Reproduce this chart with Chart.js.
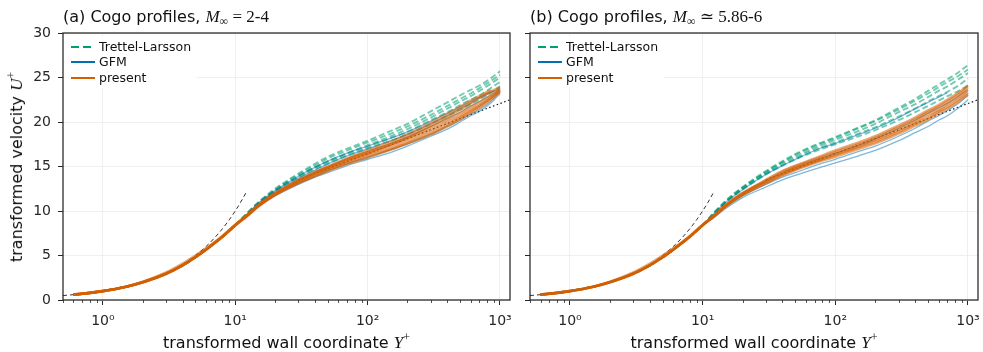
<!DOCTYPE html>
<html><head><meta charset="utf-8">
<script src="https://cdn.jsdelivr.net/npm/chart.js@4.4.0/dist/chart.umd.min.js"></script>
<style>
html,body{margin:0;padding:0;background:#fff;}
#wrap{position:relative;width:983px;height:352px;overflow:hidden;font-family:'DejaVu Sans',sans-serif;color:#111;}
canvas{position:absolute;top:0;}
.title{position:absolute;top:7px;font-size:16px;white-space:nowrap;line-height:20px;}
.math{font-family:'Liberation Serif','DejaVu Serif',serif;font-size:17px;}
.math sub{font-size:12px;vertical-align:-3px;line-height:0;}
.math sup{font-size:12px;vertical-align:7px;line-height:0;}
.xl{position:absolute;top:333px;font-size:16px;white-space:nowrap;line-height:20px;transform:translateX(-50%);}
.yl{position:absolute;left:16.5px;top:166.5px;font-size:16px;white-space:nowrap;line-height:20px;transform:translate(-50%,-50%) rotate(-90deg);}
.legend{position:absolute;top:36px;width:132px;height:52px;background:rgba(255,255,255,0.85);border-radius:3px;}
.row{position:absolute;left:6px;height:16px;display:flex;align-items:center;font-size:12.5px;line-height:16px;white-space:nowrap;}
.row svg{margin-right:4px;}
</style>
</head><body>
<div id="wrap">
<canvas id="c1" width="515" height="352" style="left:0;width:515px;height:352px"></canvas>
<canvas id="c2" width="468" height="352" style="left:515px;width:468px;height:352px"></canvas>

<div class="title" style="left:63px">(a) Cogo profiles, <span class="math"><i>M</i><sub>∞</sub> = 2-4</span></div>
<div class="title" style="left:530px">(b) Cogo profiles, <span class="math"><i>M</i><sub>∞</sub> ≃ 5.86-6</span></div>

<div class="xl" style="left:286.5px">transformed wall coordinate <span class="math"><i>Y</i><sup>+</sup></span></div>
<div class="xl" style="left:754px">transformed wall coordinate <span class="math"><i>Y</i><sup>+</sup></span></div>
<div class="yl">transformed velocity <span class="math"><i>U</i><sup>+</sup></span></div>

<div class="legend" style="left:65px">
 <div class="row" style="top:3px"><svg width="24" height="4"><line x1="0" y1="2" x2="24" y2="2" stroke="#009E73" stroke-width="2" stroke-dasharray="8,4"/></svg><span>Trettel-Larsson</span></div>
 <div class="row" style="top:18px"><svg width="24" height="4"><line x1="0" y1="2" x2="24" y2="2" stroke="#0072B2" stroke-width="2"/></svg><span>GFM</span></div>
 <div class="row" style="top:33.5px"><svg width="24" height="4"><line x1="0" y1="2" x2="24" y2="2" stroke="#D55E00" stroke-width="2"/></svg><span>present</span></div>
</div>
<div class="legend" style="left:532px">
 <div class="row" style="top:3px"><svg width="24" height="4"><line x1="0" y1="2" x2="24" y2="2" stroke="#009E73" stroke-width="2" stroke-dasharray="8,4"/></svg><span>Trettel-Larsson</span></div>
 <div class="row" style="top:18px"><svg width="24" height="4"><line x1="0" y1="2" x2="24" y2="2" stroke="#0072B2" stroke-width="2"/></svg><span>GFM</span></div>
 <div class="row" style="top:33.5px"><svg width="24" height="4"><line x1="0" y1="2" x2="24" y2="2" stroke="#D55E00" stroke-width="2"/></svg><span>present</span></div>
</div>
</div>

<script>
// ---------------- data ----------------
const yPlus = [0.6, 0.8, 1, 1.5, 2, 3, 4, 5, 6, 8, 10, 12, 15, 20, 30, 40, 50, 70, 100, 150, 200, 300, 400, 500, 600, 700, 850, 1000];
// near-wall part (Y+ = 0.6 ... 10), common to all profiles
const innerU     = [0.6, 0.8, 1.0, 1.5, 2.0, 2.95, 3.9, 4.8, 5.65, 7.1, 8.4];
const innerUHigh = [0.6, 0.8, 1.0, 1.5, 2.05, 3.1, 4.1, 5.0, 5.8, 7.2, 8.45];
// outer part (Y+ = 12 ... 1000)
// panel (a)
const aTrettel = [
  [9.6,11.0,12.5,14.2,15.3,16.1,17.0,17.9,19.0,19.8,21.2,22.2,23.0,23.6,24.1,24.9,25.7],
  [9.6,11.0,12.4,14.1,15.1,15.9,16.8,17.7,18.7,19.5,20.8,21.8,22.6,23.2,23.8,24.6,25.3],
  [9.5,10.9,12.3,13.9,14.9,15.6,16.5,17.4,18.4,19.2,20.5,21.5,22.3,22.9,23.5,24.3,25.0],
  [9.5,10.9,12.3,13.9,14.9,15.5,16.4,17.2,18.2,18.9,20.2,21.1,21.9,22.5,23.0,23.8,24.5],
  [9.5,10.8,12.2,13.7,14.7,15.3,16.2,17.0,17.9,18.6,19.8,20.7,21.4,22.0,22.5,23.3,24.0]
];
const aGFM = [
  [9.5,10.9,12.3,13.9,14.9,15.6,16.5,17.3,18.2,18.9,20.1,21.0,21.7,22.3,22.8,23.4],
  [9.4,10.7,12.0,13.5,14.4,15.0,15.9,16.7,17.6,18.3,19.5,20.4,21.1,21.8,22.3,23.0,23.7],
  [9.3,10.5,11.8,13.1,13.9,14.5,15.3,16.0,16.9,17.5,18.6,19.5,20.2,20.9,21.4,22.3,23.4],
  [9.3,10.5,11.7,13.0,13.8,14.3,15.1,15.8,16.6,17.3,18.4,19.2,20.0,20.7,21.2,22.1,23.2],
  [9.4,10.8,12.2,13.7,14.6,15.3,16.2,17.0,17.9,18.6,19.8,20.7,21.5,22.1,22.7,23.3,23.8]
];
const aPresent = [
  [9.4,10.7,12.0,13.4,14.3,14.9,15.8,16.6,17.5,18.2,19.4,20.3,21.0,21.7,22.2,23.0,23.7],
  [9.4,10.6,11.9,13.3,14.2,14.8,15.6,16.4,17.3,18.0,19.1,20.0,20.7,21.4,21.9,22.7,23.5],
  [9.3,10.6,11.8,13.2,14.0,14.6,15.4,16.2,17.0,17.7,18.8,19.7,20.5,21.2,21.8,22.7,23.6],
  [9.4,10.7,12.0,13.5,14.4,15.0,15.9,16.8,17.8,18.6,19.9,20.9,21.7,22.4,22.9,23.6],
  [9.4,10.6,11.9,13.3,14.2,14.8,15.7,16.5,17.5,18.3,19.6,20.6,21.4,22.1,22.7,23.4,23.9],
  [9.3,10.5,11.8,13.1,13.9,14.5,15.3,16.0,16.9,17.6,18.6,19.5,20.3,21.0,21.6,22.5,23.4]
];
// panel (b)
const bTrettel = [
  [9.7,11.2,12.7,14.5,15.6,16.4,17.4,18.3,19.4,20.2,21.6,22.6,23.5,24.2,24.8,25.6,26.4],
  [9.7,11.1,12.6,14.4,15.5,16.3,17.3,18.2,19.3,20.1,21.4,22.4,23.2,23.9,24.5,25.2,25.9],
  [9.6,11.1,12.6,14.3,15.4,16.1,17.1,18.0,19.0,19.8,21.1,22.0,22.8,23.5,24.0,24.8,25.5],
  [9.6,11.0,12.5,14.2,15.2,15.9,16.9,17.7,18.7,19.4,20.6,21.5,22.3,22.9,23.4,24.1,24.9],
  [9.6,11.0,12.4,14.1,15.1,15.8,16.7,17.5,18.4,19.1,20.2,21.1,21.8,22.4,22.9,23.5,24.1]
];
const bGFM = [
  [9.6,11.0,12.4,14.1,15.1,15.8,16.8,17.6,18.6,19.3,20.5,21.5,22.2,22.8,23.3],
  [9.4,10.7,12.0,13.4,14.3,14.9,15.7,16.5,17.4,18.1,19.3,20.2,21.0,21.6,22.1,22.9,23.6],
  [9.3,10.5,11.7,13.0,13.8,14.3,15.1,15.8,16.7,17.3,18.4,19.3,20.1,20.7,21.3,22.1,23.0],
  [9.2,10.3,11.5,12.7,13.5,14.0,14.7,15.4,16.2,16.8,17.9,18.8,19.5,20.2,20.7,21.6,22.5]
];
const bPresent = [
  [9.4,10.7,12.0,13.4,14.4,15.0,15.8,16.6,17.5,18.2,19.4,20.3,21.1,21.7,22.3,23.1,23.9],
  [9.4,10.6,11.9,13.3,14.2,14.8,15.6,16.4,17.3,18.0,19.1,20.0,20.8,21.4,22.0,22.8,23.6],
  [9.3,10.6,11.8,13.2,14.1,14.7,15.5,16.3,17.2,17.8,18.9,19.8,20.5,21.2,21.7,22.5,23.3],
  [9.4,10.7,12.0,13.5,14.5,15.1,15.9,16.8,17.7,18.4,19.6,20.5,21.3,21.9,22.5,23.3,24.1],
  [9.3,10.5,11.8,13.1,14.0,14.6,15.4,16.1,17.0,17.6,18.7,19.6,20.3,21.0,21.5,22.3,23.1]
];
// reference laws
const viscY = [0.5, 0.6, 0.8, 1, 1.5, 2, 3, 4, 5, 6, 7, 8, 9, 10, 11, 12];
const viscU = [0.5, 0.6, 0.8, 1, 1.5, 2, 3, 4, 5, 6, 7, 8, 9, 10, 11, 12];
const logLawY = [30, 1190];
const logLawU = [13.5, 22.5];
// ticks
const xTickVals = [0.5,0.6,0.7,0.8,0.9,1,2,3,4,5,6,7,8,9,10,20,30,40,50,60,70,80,90,100,200,300,400,500,600,700,800,900,1000];
const xMajor = [1, 10, 100, 1000];
const xMajorLabels = ['10⁰', '10¹', '10²', '10³'];
const yTickVals = [0, 5, 10, 15, 20, 25, 30];

// ---------------- chart ----------------
const C_GREEN = 'rgba(0,158,115,0.55)';
const C_BLUE = 'rgba(0,114,178,0.5)';
const C_ORANGE = 'rgba(213,94,0,0.55)';

function profilePoints(inner, outer) {
  const u = inner.concat(outer);
  return u.map((v, i) => ({x: yPlus[i], y: v}));
}
function zip(xs, ys) { return xs.map((x, i) => ({x: x, y: ys[i]})); }

// dataset index 0 is drawn on top
function buildDatasets(trettel, gfm, present) {
  const ds = [];
  present.forEach((o, i) => ds.push({data: profilePoints(i === 1 ? innerUHigh : innerU, o), borderColor: C_ORANGE, borderWidth: 2.6}));
  gfm.forEach(o => ds.push({data: profilePoints(innerU, o), borderColor: C_BLUE, borderWidth: 1.3}));
  trettel.forEach(o => ds.push({data: profilePoints(innerU, o), borderColor: C_GREEN, borderWidth: 1.9, borderDash: [6, 3]}));
  ds.push({data: zip(viscY, viscU), borderColor: '#333', borderWidth: 1, borderDash: [4, 3]});
  ds.push({data: zip(logLawY, logLawU), borderColor: '#1a1a1a', borderWidth: 1.2, borderDash: [1.5, 2.5]});
  ds.forEach(d => { d.showLine = true; d.pointRadius = 0; d.fill = false; d.cubicInterpolationMode = 'monotone'; d.borderCapStyle = 'butt'; });
  return ds;
}

const framePlugin = {
  id: 'frame',
  afterDatasetsDraw(chart) {
    const ctx = chart.ctx, a = chart.chartArea, xs = chart.scales.x;
    ctx.save();
    ctx.strokeStyle = '#262626'; ctx.lineWidth = 0.8;
    xTickVals.forEach(v => {
      if (xMajor.includes(v)) return;
      const px = Math.round(xs.getPixelForValue(v)) + 0.5;
      ctx.beginPath(); ctx.moveTo(px, a.bottom); ctx.lineTo(px, a.bottom + 3); ctx.stroke();
    });
    ctx.strokeStyle = '#262626'; ctx.lineWidth = 1.25;
    ctx.strokeRect(a.left, a.top, a.right - a.left, a.bottom - a.top);
    ctx.restore();
  }
};

function makeChart(id, isLeft, trettel, gfm, present) {
  const font = {family: "'DejaVu Sans', sans-serif", size: 14};
  return new Chart(document.getElementById(id), {
    type: 'scatter',
    data: {datasets: buildDatasets(trettel, gfm, present)},
    options: {
      responsive: false, animation: false, devicePixelRatio: 1,
      layout: {padding: {left: 0, right: 5, top: 33, bottom: 0}},
      plugins: {legend: {display: false}, tooltip: {enabled: false}},
      scales: {
        x: {
          type: 'logarithmic', min: 0.5, max: 1190,
          afterBuildTicks: s => { s.ticks = xTickVals.map(v => ({value: v, major: xMajor.includes(v)})); },
          afterFit: s => { s.height = 52; s.paddingLeft = 0; s.paddingRight = 0; },
          ticks: {autoSkip: false, maxRotation: 0, minRotation: 0, padding: 8, color: '#262626', font: font,
            callback: v => { const k = xMajor.indexOf(v); return k >= 0 ? xMajorLabels[k] : ''; }},
          grid: {
            color: c => (c.tick && xMajor.includes(c.tick.value)) ? '#ebebeb' : 'rgba(0,0,0,0)',
            tickColor: c => (c.tick && xMajor.includes(c.tick.value)) ? '#262626' : 'rgba(0,0,0,0)',
            lineWidth: 0.8, tickWidth: 1, tickLength: 5
          },
          border: {display: false}
        },
        y: {
          type: 'linear', min: 0, max: 30,
          afterBuildTicks: s => { s.ticks = yTickVals.map(v => ({value: v})); },
          afterFit: s => { s.width = isLeft ? 63 : 15; s.paddingTop = 0; s.paddingBottom = 0; },
          ticks: {padding: 7, color: '#262626', font: font, callback: v => isLeft ? String(v) : ''},
          grid: {color: '#ebebeb', lineWidth: 0.8, tickColor: '#262626', tickWidth: 1, tickLength: 5},
          border: {display: false}
        }
      }
    },
    plugins: [framePlugin]
  });
}

makeChart('c1', true, aTrettel, aGFM, aPresent);
makeChart('c2', false, bTrettel, bGFM, bPresent);
</script>
</body></html>
